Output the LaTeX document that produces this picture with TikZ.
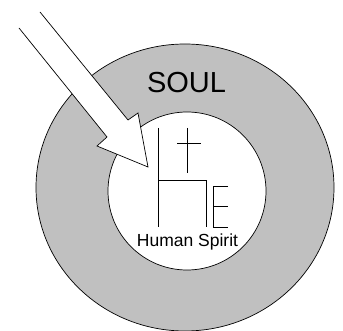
\documentclass[tikz,border=0pt]{standalone}
\usepackage{fontspec}
\setmainfont{Liberation Sans}
\definecolor{soulgray}{HTML}{C0C0C0}

\begin{document}
\begin{tikzpicture}[x=1pt,y=-1pt,line width=.7pt]
\useasboundingbox (0,0) rectangle (343,331);
% soul ring and spirit disc
\path[fill=soulgray,draw=black] (185,187.5) ellipse[x radius=149,y radius=143.5];
\path[fill=white,draw=black] (187,191) circle[radius=79];
\node[font=\fontsize{29}{29}\selectfont] (soul) at (186.5,83) {SOUL};
% block arrow into the spirit
\path[fill=white] (40,12) -- (128,120) -- (138,113) -- (148,167) -- (97,146) -- (107,137) -- (19,28) -- cycle;
\draw[line join=miter] (40,12) -- (128,120) -- (138,113) -- (148,167) -- (97,146) -- (107,137) -- (19,28);
% H with cross and E
\draw (158,128) -- (158,227);
\draw (187,128) -- (187,173);
\draw (177,143) -- (201,143);
\draw (158,180) -- (206,180) -- (206,227);
\draw (228,186) -- (213,186) -- (213,227) -- (228,227);
\draw (213,206) -- (228,206);
\node[font=\fontsize{17.5}{17.5}\selectfont,anchor=base] (spirit) at (187.5,247) {Human Spirit};
\end{tikzpicture}
\end{document}
